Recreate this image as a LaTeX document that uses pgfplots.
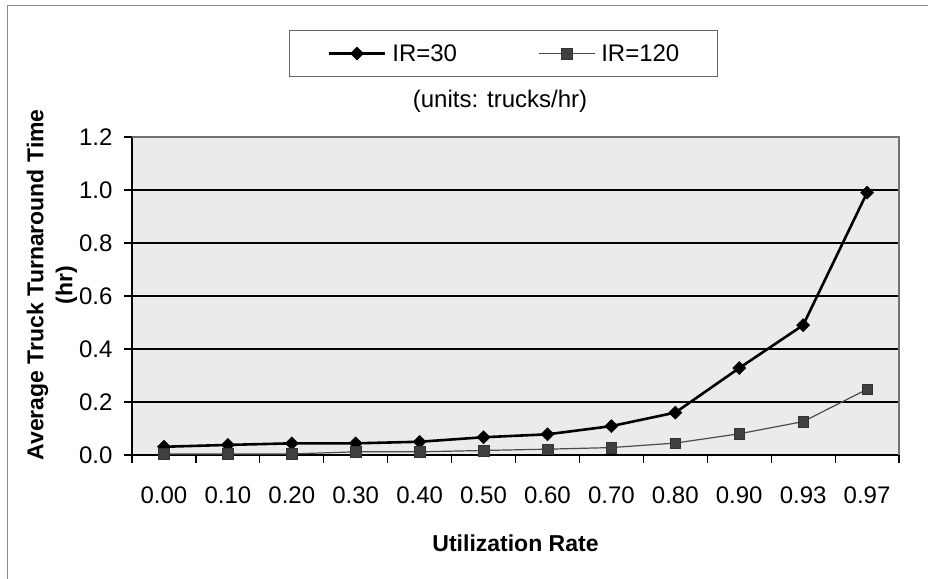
\documentclass[border=0pt]{standalone}
\usepackage{pgfplots}
\pgfplotsset{compat=1.18}
\usepackage{fontspec}
\setmainfont{Liberation Sans}

% turnaround time (hr) per utilization category, index 0..11
\pgfplotstableread{
idx  val
0    0.031
1    0.038
2    0.044
3    0.044
4    0.050
5    0.067
6    0.078
7    0.109
8    0.160
9    0.328
10   0.490
11   0.990
}\irthirty
\pgfplotstableread{
idx  val
0    0.004
1    0.004
2    0.004
3    0.012
4    0.012
5    0.017
6    0.022
7    0.028
8    0.045
9    0.080
10   0.126
11   0.248
}\irtwenty

\begin{document}
\begin{tikzpicture}[x=1bp,y=1bp]
\useasboundingbox (0,0) rectangle (928,579);
% outer chart frame
\draw[black!45, line width=1bp] (7,0) -- (7,573) -- (928,573);
\begin{axis}[
  at={(132bp,124bp)}, anchor=south west,
  scale only axis, width=767bp, height=318bp,
  xmin=-0.5, xmax=11.5, ymin=0, ymax=1.2,
  axis background/.style={fill=black!8},
  axis x line*=bottom, axis y line*=left,
  axis line style={black, line width=1.2bp},
  xtick={0,...,11},
  xticklabels={0.00,0.10,0.20,0.30,0.40,0.50,0.60,0.70,0.80,0.90,0.93,0.97},
  major x tick style={draw=none},
  minor xtick={-0.5,0.5,...,11.5},
  minor x tick style={black, line width=1.2bp},
  minor tick length=8bp,
  ytick={0,0.2,...,1.0},
  extra y ticks={1.2},
  extra y tick style={grid=none},
  major tick length=8bp,
  tick align=outside,
  y tick style={black, line width=1.2bp},
  ymajorgrids,
  major grid style={black, line width=1.3bp},
  /pgf/number format/assume math mode=true,
  y tick label style={/pgf/number format/fixed,
                      /pgf/number format/fixed zerofill,
                      /pgf/number format/precision=1},
  tick label style={font=\fontsize{24bp}{28bp}\selectfont},
  xticklabel style={yshift=-20bp},
  yticklabel style={xshift=-8bp},
  xlabel={Utilization Rate},
  xlabel style={at={(axis description cs:0.5,-0.277)}, anchor=center,
                font=\bfseries\fontsize{23bp}{28bp}\selectfont},
  ylabel={Average Truck Turnaround Time\\(hr)},
  ylabel style={at={(axis description cs:-0.1045,0.535)}, anchor=center,
                align=center, font=\bfseries\fontsize{23bp}{29bp}\selectfont},
  legend columns=2,
  legend style={at={(0.4844,1.2626)}, anchor=center,
                draw=black!60, line width=0.8bp, fill=white,
                inner xsep=38bp, inner ysep=14bp,
                font=\fontsize{24bp}{28bp}\selectfont,
                nodes={inner sep=0bp},
                column sep=0bp,
                /tikz/every odd column/.append style={column sep=6bp},
                /tikz/every even column/.append style={column sep=81bp}},
  legend image code/.code={%
    \draw[mark repeat=2, mark phase=2]
      plot coordinates {(0bp,0bp) (28bp,0bp) (56bp,0bp)};},
  clip=false,
]
% lighter frame on the top and right of the plot area
\draw[black!55, line width=1.2bp]
  (rel axis cs:0,1) -- (rel axis cs:1,1) -- (rel axis cs:1,0);

\addplot[black, line width=2.6bp, mark=square*, mark size=4.6bp,
  mark options={rotate=45, solid, line width=0.5bp}]
  table[x=idx, y=val] {\irthirty};
\addlegendentry{IR=30}

\addplot[black!70, line width=1.2bp, mark=square*, mark size=5.3bp,
  mark options={fill=black!75, draw=black!80, line width=0.5bp}]
  table[x=idx, y=val] {\irtwenty};
\addlegendentry{IR=120}

\node[font=\fontsize{24bp}{28bp}\selectfont] at (axis description cs:0.4798,1.113)
  {(units: trucks/hr)};
\end{axis}
\end{tikzpicture}
\end{document}
